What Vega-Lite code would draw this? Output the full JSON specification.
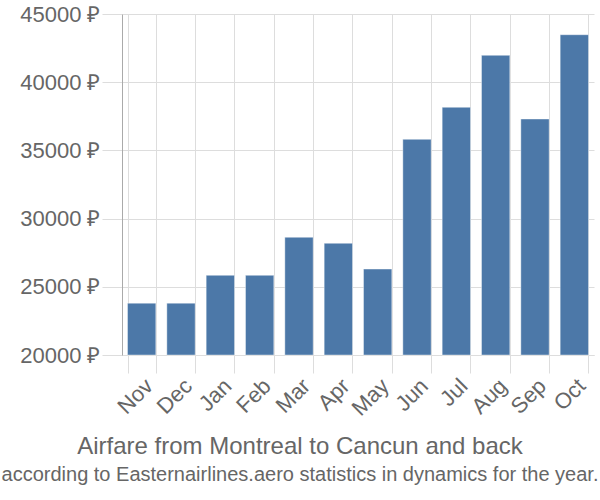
{
  "$schema": "https://vega.github.io/schema/vega-lite/v6.json",
  "width": 472,
  "height": 341,
  "autosize": "none",
  "padding": {"left": 122, "top": 14, "right": 6, "bottom": 145},
  "config": {"font": "Liberation Sans", "view": {"stroke": null}},
  "data": {
    "values": [
      {"month": "Nov", "price": 23800},
      {"month": "Dec", "price": 23800},
      {"month": "Jan", "price": 25840},
      {"month": "Feb", "price": 25840},
      {"month": "Mar", "price": 28630},
      {"month": "Apr", "price": 28190},
      {"month": "May", "price": 26300},
      {"month": "Jun", "price": 35810},
      {"month": "Jul", "price": 38160},
      {"month": "Aug", "price": 41970},
      {"month": "Sep", "price": 37300},
      {"month": "Oct", "price": 43480}
    ]
  },
  "title": {
    "text": "Airfare from Montreal to Cancun and back",
    "subtitle": "according to Easternairlines.aero statistics in dynamics for the year.",
    "orient": "bottom",
    "anchor": "middle",
    "dx": -58,
    "offset": 16,
    "fontSize": 24,
    "fontWeight": "normal",
    "color": "#666",
    "subtitleFontSize": 20,
    "subtitleColor": "#666",
    "subtitlePadding": 6
  },
  "mark": {"type": "bar", "color": "#4c78a8", "stroke": "#ffffff", "strokeOpacity": 0.4, "strokeWidth": 1},
  "encoding": {
    "x": {
      "field": "month",
      "type": "nominal",
      "sort": null,
      "scale": {"paddingInner": 0.28, "paddingOuter": 0.14},
      "axis": {
        "title": null,
        "labelAngle": -45,
        "labelAlign": "right",
        "labelBaseline": "top",
        "tickBand": "extent",
        "grid": true,
        "gridColor": "#dddddd",
        "tickColor": "#dddddd",
        "tickSize": 18,
        "labelFontSize": 22,
        "labelColor": "#666",
        "labelPadding": 2,
        "domainColor": "#dddddd"
      }
    },
    "y": {
      "field": "price",
      "type": "quantitative",
      "scale": {"domain": [20000, 45000], "zero": false, "nice": false},
      "axis": {
        "title": null,
        "values": [20000, 25000, 30000, 35000, 40000, 45000],
        "labelExpr": "datum.value + ' ₽'",
        "grid": true,
        "gridColor": "#dddddd",
        "tickColor": "#dddddd",
        "tickSize": 20,
        "labelPadding": 2,
        "labelFontSize": 22,
        "labelColor": "#666",
        "domainColor": "#aaaaaa"
      }
    },
    "y2": {"datum": 20000}
  }
}
